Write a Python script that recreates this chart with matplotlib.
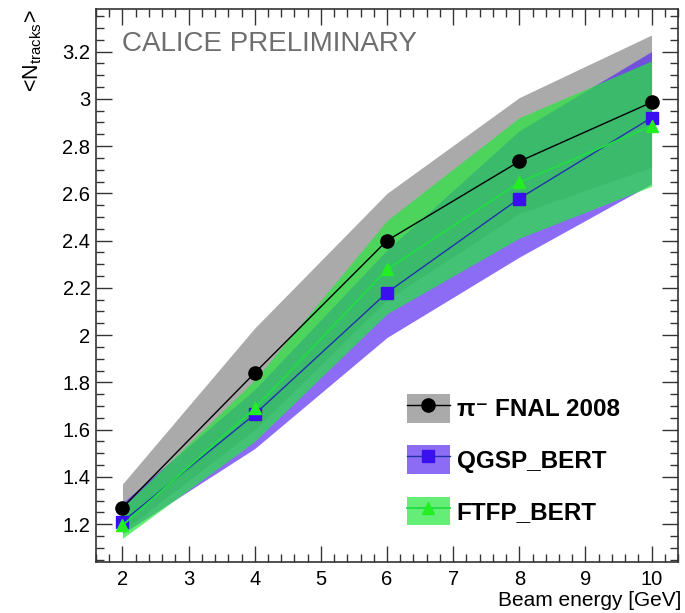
import matplotlib
matplotlib.use("Agg")
import matplotlib.pyplot as plt
from matplotlib.patches import Patch
from matplotlib.lines import Line2D
from matplotlib.legend_handler import HandlerTuple
from matplotlib.ticker import MultipleLocator, FuncFormatter

plt.rcParams['font.family'] = ['Liberation Sans', 'DejaVu Sans']
plt.rcParams['mathtext.fontset'] = 'custom'
plt.rcParams['mathtext.rm'] = 'Liberation Sans'
plt.rcParams['mathtext.it'] = 'Liberation Sans:italic'

# ---- data ----
energy = [2, 4, 6, 8, 10]

data_mean = [1.27, 1.84, 2.40, 2.735, 2.985]
data_lo = [1.17, 1.60, 2.15, 2.515, 2.71]
data_hi = [1.37, 2.03, 2.60, 3.005, 3.27]

qgsp_mean = [1.21, 1.665, 2.18, 2.578, 2.92]
qgsp_lo = [1.16, 1.52, 1.99, 2.33, 2.64]
qgsp_hi = [1.29, 1.77, 2.36, 2.865, 3.20]

ftfp_mean = [1.195, 1.69, 2.278, 2.646, 2.885]
ftfp_lo = [1.14, 1.55, 2.09, 2.41, 2.63]
ftfp_hi = [1.27, 1.81, 2.485, 2.92, 3.16]

labels = ['π⁻ FNAL 2008', 'QGSP_BERT', 'FTFP_BERT']

# ---- styles ----
gray_fill = '#aaaaaa'
purple_fill = '#5b2df2'
green_fill = '#24e73d'
band_alpha = 0.7

W, H = 685, 613
fig = plt.figure(figsize=(W / 100, H / 100), dpi=100)
ax_l, ax_r, ax_t, ax_b = 96, 678, 9, 562
ax = fig.add_axes([ax_l / W, 1 - ax_b / H, (ax_r - ax_l) / W, (ax_b - ax_t) / H])

ax.fill_between(energy, data_lo, data_hi, color=gray_fill, lw=0, zorder=1)
ax.fill_between(energy, qgsp_lo, qgsp_hi, color=purple_fill, alpha=band_alpha, lw=0, zorder=2)
ax.fill_between(energy, ftfp_lo, ftfp_hi, color=green_fill, alpha=band_alpha, lw=0, zorder=3)

l1, = ax.plot(energy, data_mean, color='black', lw=1.0, marker='o', ms=9.5,
              mfc='black', mec='black', zorder=6)
l2, = ax.plot(energy, qgsp_mean, color='#2233aa', lw=1.0, marker='s', ms=8.5,
              mfc='#3a10f0', mec='#3a10f0', zorder=4)
l3, = ax.plot(energy, ftfp_mean, color='#22dd44', lw=1.3, marker='^', ms=9,
              mfc='#22ee22', mec='#22ee22', zorder=5)

ax.set_xlim(1.6, 10.4)
ax.set_ylim(1.04, 3.38)

ax.xaxis.set_major_locator(MultipleLocator(1))
ax.xaxis.set_minor_locator(MultipleLocator(0.2))
ax.yaxis.set_major_locator(MultipleLocator(0.2))
ax.yaxis.set_minor_locator(MultipleLocator(0.05))
fmt = FuncFormatter(lambda v, p: '%g' % round(v, 3))
ax.xaxis.set_major_formatter(fmt)
ax.yaxis.set_major_formatter(fmt)

ax.tick_params(which='both', direction='in', top=True, right=True,
               color='#333333', width=1.0)
ax.tick_params(which='major', length=11.5, labelsize=14.5)
ax.tick_params(which='minor', length=5.5)
ax.tick_params(axis='y', which='major', pad=4)
ax.tick_params(axis='x', which='major', pad=6)
for s in ax.spines.values():
    s.set_linewidth(1.2)
    s.set_color('#333333')

ax.text(0.045, 0.937, 'CALICE PRELIMINARY', transform=ax.transAxes,
        fontsize=20, color='#6e6e6e', ha='left', va='center')

fig.text(681 / W, 1 - 601 / H, 'Beam energy [GeV]', ha='right', va='center',
         fontsize=15)
fig.text(33 / W, 1 - 10 / H, r'<N$_{\mathrm{tracks}}$>', ha='center', va='top',
         rotation=90, fontsize=15.5)

h1 = (Patch(facecolor=gray_fill, edgecolor='none'), l1)
h2 = (Patch(facecolor=purple_fill, alpha=band_alpha, edgecolor='none'), l2)
h3 = (Patch(facecolor=green_fill, alpha=band_alpha, edgecolor='none'), l3)
leg = ax.legend([h1, h2, h3], labels,
                handler_map={tuple: HandlerTuple(ndivide=1, pad=0)},
                loc='upper left', bbox_to_anchor=(0.534, 0.304),
                frameon=False, borderpad=0, borderaxespad=0,
                prop={'weight': 'bold', 'size': 17.5},
                handlelength=1.77, handleheight=1.44, labelspacing=0.93,
                handletextpad=0.29)

fig.savefig('out.png', dpi=100)
